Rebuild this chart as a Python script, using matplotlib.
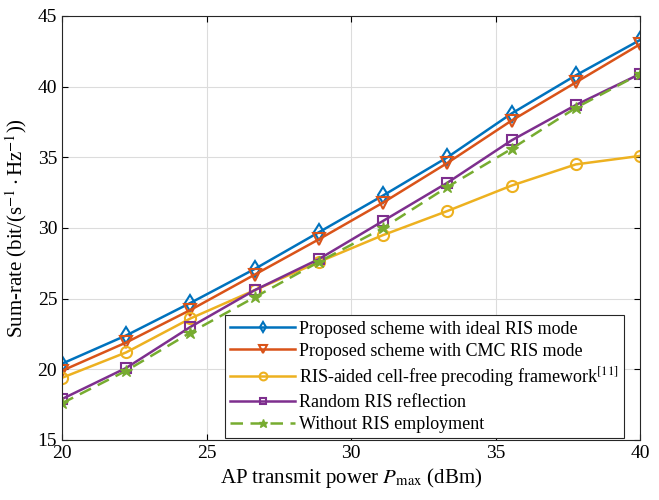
import numpy as np
import matplotlib
matplotlib.use("Agg")
import matplotlib.pyplot as plt

plt.rcParams['font.family'] = ['Liberation Serif', 'DejaVu Serif']
plt.rcParams['mathtext.fontset'] = 'stix'

pmax = np.linspace(20, 40, 10)
ideal = [20.4, 22.4, 24.7, 27.1, 29.7, 32.3, 35.0, 38.1, 40.8, 43.3]
cmc = [19.9, 21.9, 24.2, 26.7, 29.2, 31.8, 34.6, 37.6, 40.3, 43.0]
prior = [19.4, 21.2, 23.6, 25.6, 27.6, 29.5, 31.2, 33.0, 34.5, 35.1]
random_ris = [17.9, 20.1, 23.0, 25.6, 27.8, 30.5, 33.2, 36.2, 38.7, 40.9]
no_ris = [17.6, 19.9, 22.6, 25.1, 27.6, 30.0, 32.9, 35.6, 38.5, 40.9]

labels = ["Proposed scheme with ideal RIS mode",
          "Proposed scheme with CMC RIS mode",
          "RIS-aided cell-free precoding framework$^{[11]}$",
          "Random RIS reflection",
          "Without RIS employment"]

fig = plt.figure(figsize=(6.59, 5.0), dpi=100)
ax = fig.add_axes([62/659, 60/500, 578/659, 424/500])

lw = 1.8
ax.plot(pmax, ideal, '-', color='#0072BD', lw=lw, marker='d', ms=8, mfc='none', mew=1.5, label=labels[0])
ax.plot(pmax, cmc, '-', color='#D95319', lw=lw, marker='v', ms=8, mfc='none', mew=1.5, label=labels[1])
ax.plot(pmax, prior, '-', color='#EDB120', lw=lw, marker='o', ms=8, mfc='none', mew=1.5, label=labels[2])
ax.plot(pmax, random_ris, '-', color='#7E2F8E', lw=lw, marker='s', ms=7, mfc='none', mew=1.5, label=labels[3])
ax.plot(pmax, no_ris, '--', color='#77AC30', lw=lw, marker='*', ms=9, dashes=(5, 3), label=labels[4])

ax.set_xlim(20, 40)
ax.set_ylim(15, 45)
ax.set_xticks([20, 25, 30, 35, 40])
ax.set_yticks([15, 20, 25, 30, 35, 40, 45])
ax.grid(True, color='#dcdcdc', lw=0.8)
ax.set_axisbelow(True)
ax.tick_params(direction='in', labelsize=14, length=4, top=True, right=True)
for s in ax.spines.values():
    s.set_color('#262626')
    s.set_linewidth(0.8)

ax.set_xlabel(r"AP transmit power $P_{\max}$ (dBm)", fontsize=15, labelpad=3)
ax.set_ylabel(r"Sum-rate (bit/(s$^{-1}\cdot$Hz$^{-1}$))", fontsize=15, labelpad=6)

leg = ax.legend(loc='lower right', bbox_to_anchor=(0.972, 0.004), fontsize=13,
                frameon=True, fancybox=False, framealpha=1.0,
                edgecolor='#262626', borderpad=0.3, labelspacing=0.28,
                handlelength=3.6, handletextpad=0.2, borderaxespad=0.0,
                markerscale=0.7)
leg.get_frame().set_linewidth(0.8)

fig.savefig("out.png", dpi=100)
